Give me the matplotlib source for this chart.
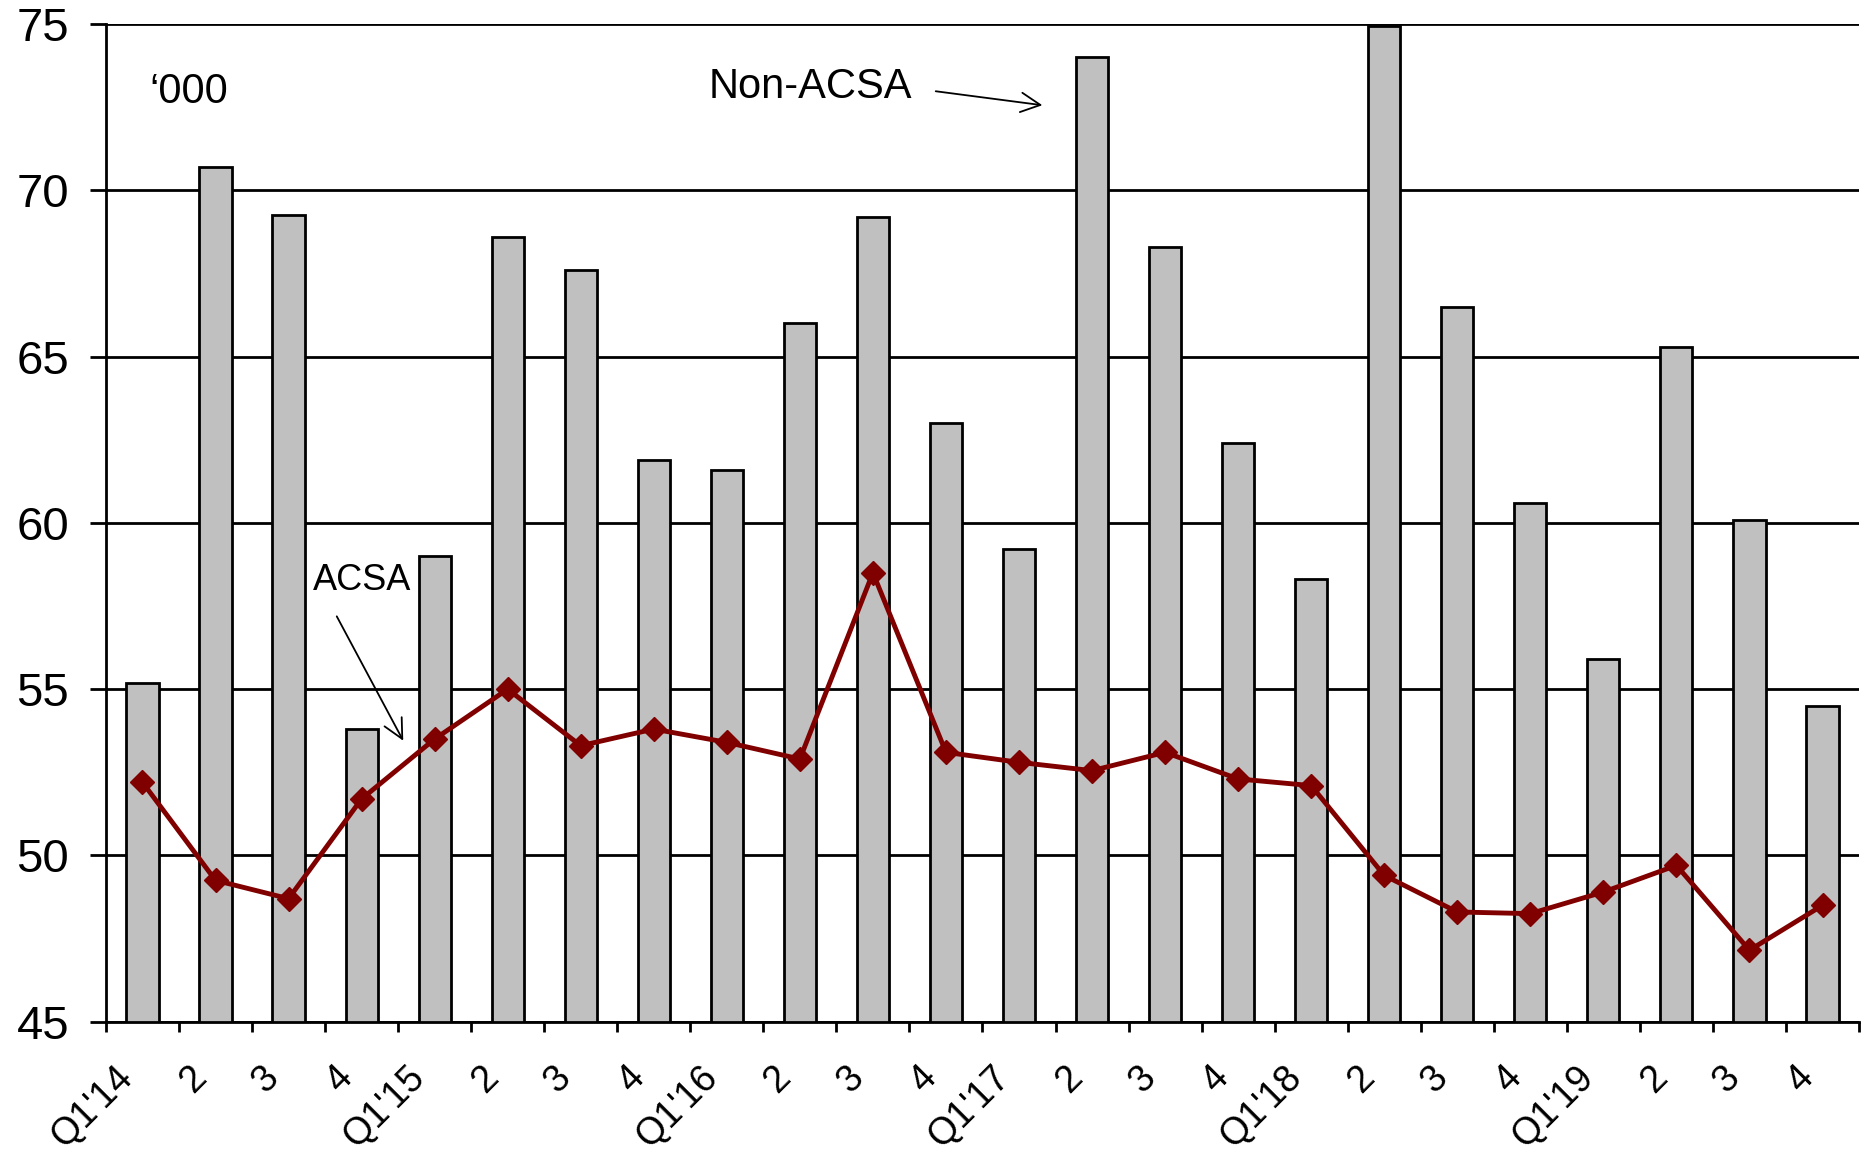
import numpy as np
import matplotlib.pyplot as plt
import matplotlib.transforms as mtransforms

plt.rcParams['font.family'] = ['Liberation Sans', 'DejaVu Sans']

# quarterly registrations, thousands
quarters = ["Q1'14", '2', '3', '4',
            "Q1'15", '2', '3', '4',
            "Q1'16", '2', '3', '4',
            "Q1'17", '2', '3', '4',
            "Q1'18", '2', '3', '4',
            "Q1'19", '2', '3', '4']
non_acsa = [55.2, 70.7, 69.25, 53.8, 59.0, 68.6, 67.6, 61.9,
            61.6, 66.0, 69.2, 63.0, 59.2, 74.0, 68.3, 62.4,
            58.3, 74.95, 66.5, 60.6, 55.9, 65.3, 60.1, 54.5]
acsa = [52.2, 49.25, 48.7, 51.7, 53.5, 55.0, 53.3, 53.8,
        53.4, 52.9, 58.5, 53.1, 52.8, 52.55, 53.1, 52.3,
        52.1, 49.4, 48.3, 48.25, 48.9, 49.7, 47.15, 48.5]

x = np.arange(len(quarters))

fig = plt.figure(figsize=(18.65, 11.52), dpi=100)
ax = fig.add_axes([0.0568, 0.1131, 0.94, 0.866])

ax.bar(x, non_acsa, width=0.44, color='#c0c0c0', edgecolor='black',
       linewidth=2, zorder=2)
ax.plot(x, acsa, color='#800000', lw=3.5, marker='D', markersize=12.5,
        zorder=3)

ax.set_xlim(-0.5, len(quarters) - 0.5)
ax.set_ylim(45, 75)
ax.set_yticks(np.arange(45, 80, 5))
ax.yaxis.grid(True, color='black', lw=2)
ax.set_axisbelow(True)

for side in ['top', 'right']:
    ax.spines[side].set_visible(False)
for side in ['left', 'bottom']:
    ax.spines[side].set_linewidth(2)

ax.tick_params(axis='y', direction='out', length=11.5, width=2, pad=15,
               labelsize=34)

# labels under the bar centres, tick marks on the category boundaries
ax.set_xticks(x)
ax.set_xticks(np.arange(len(quarters) + 1) - 0.5, minor=True)
ax.set_xticklabels(quarters, rotation=45, ha='right', va='center',
                   rotation_mode='anchor', fontsize=27)
ax.tick_params(axis='x', which='major', length=0, pad=36)
ax.tick_params(axis='x', which='minor', direction='out', length=7, width=2)
shift = mtransforms.ScaledTranslation(-0.15, 0, fig.dpi_scale_trans)
for lab in ax.get_xticklabels():
    lab.set_transform(lab.get_transform() + shift)

ax.text(0.1, 72.95, '\u2018000', fontsize=30, ha='left', va='center')

ax.text(9.14, 73.1, 'Non-ACSA', fontsize=30, ha='center', va='center')
ax.annotate('', xy=(12.32, 72.56), xytext=(10.86, 72.98),
            arrowprops=dict(arrowstyle='->', color='black', lw=1.3,
                            mutation_scale=35, shrinkA=0, shrinkB=0))

ax.text(3.01, 58.27, 'ACSA', fontsize=26, ha='center', va='center')
ax.annotate('', xy=(3.57, 53.45), xytext=(2.66, 57.19),
            arrowprops=dict(arrowstyle='->', color='black', lw=1.3,
                            mutation_scale=35, shrinkA=0, shrinkB=0))

fig.savefig('out.png', dpi=100)
